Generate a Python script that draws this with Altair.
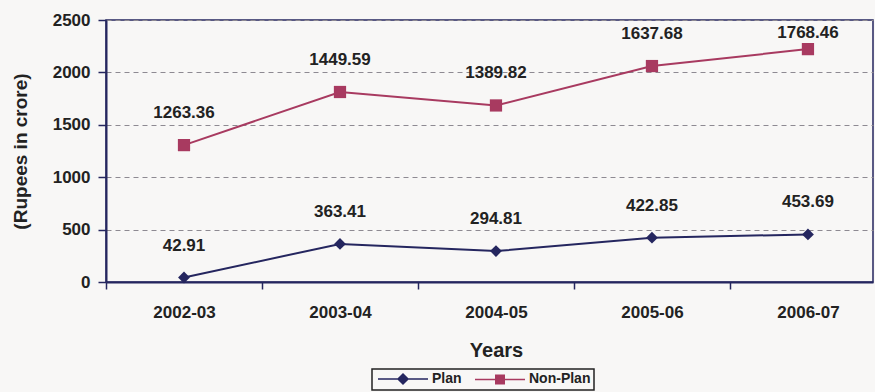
import altair as alt
import pandas as pd

years = ["2002-03", "2003-04", "2004-05", "2005-06", "2006-07"]
plan = [42.91, 363.41, 294.81, 422.85, 453.69]
non_plan = [1263.36, 1449.59, 1389.82, 1637.68, 1768.46]
series_names = ["Plan", "Non-Plan"]
series_colors = ["#25265F", "#A83A60"]

rows = []
for i, y in enumerate(years):
    rows.append({"idx": i, "year": y, "series": "Plan", "value": plan[i],
                 "pos": plan[i], "label": f"{plan[i]:.2f}"})
    rows.append({"idx": i, "year": y, "series": "Non-Plan", "value": non_plan[i],
                 "pos": plan[i] + non_plan[i], "label": f"{non_plan[i]:.2f}"})
df = pd.DataFrame(rows)

FONT = "Liberation Sans"
label_expr = "[" + ",".join(f"'{y}'" for y in years) + "][round(datum.value + 0.5)]"

xenc = alt.X("idx:Q",
             scale=alt.Scale(domain=[-0.5, 4.417], nice=False, zero=False),
             axis=alt.Axis(values=[-0.5, 0.5, 1.5, 2.5, 3.5], labelExpr=label_expr,
                           labelOffset=78, labelFlush=False, labelOverlap=False,
                           title="Years", grid=False,
                           tickSize=7, tickColor="#25265F", tickWidth=1.5,
                           domainColor="#25265F", domainWidth=2,
                           labelFont=FONT, labelFontSize=17, labelFontWeight="bold",
                           labelColor="#222222", labelPadding=15,
                           titleFont=FONT, titleFontSize=20, titleFontWeight="bold",
                           titleColor="#222222", titlePadding=20, titleX=390))
yenc = alt.Y("pos:Q",
             scale=alt.Scale(domain=[0, 2500], nice=False),
             axis=alt.Axis(values=[0, 500, 1000, 1500, 2000, 2500], format="d",
                           title="(Rupees in crore)",
                           grid=True, gridColor="#8E8A92", gridDash=[5, 4], gridWidth=1,
                           tickSize=8, tickColor="#25265F", tickWidth=1.5,
                           domainColor="#25265F", domainWidth=2,
                           labelFont=FONT, labelFontSize=17, labelFontWeight="bold",
                           labelColor="#222222", labelPadding=8,
                           titleFont=FONT, titleFontSize=19, titleFontWeight="bold",
                           titleColor="#222222", titleX=-76, titleY=131))

color_scale = alt.Scale(domain=series_names, range=series_colors)

base = alt.Chart(df)

lines = base.mark_line(strokeWidth=2).encode(
    x=xenc, y=yenc,
    color=alt.Color("series:N", scale=color_scale, legend=None),
    detail="series:N",
)

plan_pts = base.transform_filter(alt.datum.series == "Plan").mark_point(
    shape="diamond", filled=True, size=140, opacity=1).encode(
    x="idx:Q", y="pos:Q",
    color=alt.Color("series:N", scale=color_scale, legend=None))

np_pts = base.transform_filter(alt.datum.series == "Non-Plan").mark_point(
    shape="square", filled=True, size=150, opacity=1).encode(
    x="idx:Q", y="pos:Q",
    color=alt.Color("series:N", scale=color_scale, legend=None))

# labels sit above their point, but are kept inside the plot area (as Excel does)
labels = base.transform_calculate(
    anchor="min(datum.pos, 2071)"
).mark_text(font=FONT, fontSize=17, fontWeight="bold", color="#222222",
            dy=-32, baseline="middle", align="center").encode(
    x="idx:Q", y="anchor:Q", text="label:N")

diamond_path = "M-5,0H5M0,-1L1,0L0,1L-1,0Z"
square_path = "M-5,0H5M-0.85,-0.85H0.85V0.85H-0.85Z"

legend_layer = base.transform_filter("false").mark_point(filled=True).encode(
    fill=alt.Fill("series:N", scale=alt.Scale(domain=series_names, range=series_colors),
                  legend=alt.Legend(title=None)),
    stroke=alt.Stroke("series:N", scale=alt.Scale(domain=series_names, range=series_colors),
                      legend=alt.Legend(title=None)),
    shape=alt.Shape("series:N", scale=alt.Scale(domain=series_names,
                                                range=[diamond_path, square_path]),
                    legend=alt.Legend(title=None)),
)

chart = alt.layer(lines, plan_pts, np_pts, labels, legend_layer).resolve_scale(
    fill="independent", stroke="independent", shape="independent"
).properties(
    width=767, height=262,
    autosize=alt.AutoSizeParams(type="none"),
    padding={"left": 106, "top": 20, "right": 2, "bottom": 110},
    background="#F8F7F6",
).configure_view(
    fill="#C2BEC4", stroke="#25265F", strokeWidth=1.5
).configure_legend(
    orient="none", legendX=266, legendY=349, direction="horizontal",
    strokeColor="#222222", strokeWidth=1.5, padding=3, fillColor="#F8F7F6",
    symbolSize=100, symbolStrokeWidth=1.5, symbolOpacity=1, symbolOffset=21,
    labelFont=FONT, labelFontSize=14, labelFontWeight="bold", labelColor="#222222",
    columnPadding=10, labelOffset=22,
)

chart.save("out.html", embed_options={"renderer": "svg", "actions": False})
